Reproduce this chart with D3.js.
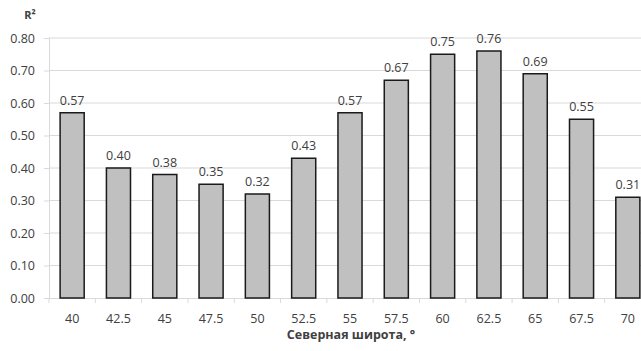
<!DOCTYPE html>
<html><head><meta charset="utf-8">
<script src="https://cdn.jsdelivr.net/npm/d3@7"></script>
<style>body{margin:0;background:#fff}svg{display:block}text{font-family:"Open Sans",sans-serif}</style>
</head><body><svg id="c" width="641" height="351"></svg>
<script>
const categories = ["40","42.5","45","47.5","50","52.5","55","57.5","60","62.5","65","67.5","70"];
const values = [0.57,0.40,0.38,0.35,0.32,0.43,0.57,0.67,0.75,0.76,0.69,0.55,0.31];
const yTicks = [0,0.1,0.2,0.3,0.4,0.5,0.6,0.7,0.8];
const xTitle = "Северная широта, °";
const yTitle = "R²";

const svg = d3.select("#c");
const x = d3.scaleBand().domain(categories).range([49, 651]).paddingInner(0.48).paddingOuter(0.24);
const y = d3.scaleLinear().domain([0, 0.8]).range([298, 38]);

svg.append("g").selectAll("line").data(yTicks.slice(1)).join("line")
  .attr("x1", 49).attr("x2", 641).attr("y1", d => y(d)).attr("y2", d => y(d))
  .attr("stroke", "#d9d9d9").attr("stroke-width", 1);

const ya = svg.append("g").attr("transform", "translate(49,0)")
  .call(d3.axisLeft(y).tickValues(yTicks).tickFormat(d3.format(".2f")).tickSize(5).tickPadding(9));
ya.select(".domain").attr("stroke", "#d9d9d9");
ya.selectAll(".tick line").attr("stroke", "#d9d9d9");
ya.selectAll("text").attr("font-size", 12.5).attr("fill", "#404040").attr("font-family", "Open Sans");

const step = x.step();
const xa = svg.append("g").attr("transform", "translate(0,298)")
  .call(d3.axisBottom(x).tickSize(0).tickPadding(16));
xa.select(".domain").attr("stroke", "#d9d9d9");
xa.selectAll("text").attr("font-size", 12.5).attr("fill", "#404040").attr("font-family", "Open Sans");
svg.append("g").selectAll("line").data(d3.range(categories.length + 1)).join("line")
  .attr("x1", i => 49 + i * step).attr("x2", i => 49 + i * step)
  .attr("y1", 298).attr("y2", 303).attr("stroke", "#d9d9d9");

svg.append("g").selectAll("rect").data(values).join("rect")
  .attr("x", (d, i) => x(categories[i])).attr("width", x.bandwidth())
  .attr("y", d => y(d)).attr("height", d => 298 - y(d))
  .attr("fill", "#c0c0c0").attr("stroke", "#1a1a1a").attr("stroke-width", 1.5);

svg.append("g").selectAll("text").data(values).join("text")
  .attr("x", (d, i) => x(categories[i]) + x.bandwidth() / 2).attr("y", d => y(d) - 8)
  .attr("text-anchor", "middle").attr("font-size", 12.5).attr("fill", "#404040")
  .text(d => d3.format(".2f")(d));

svg.append("text").attr("x", 30).attr("y", 19).attr("text-anchor", "middle")
  .attr("font-size", 11).attr("font-weight", "bold").attr("fill", "#404040").text(yTitle);
svg.append("text").attr("x", 351).attr("y", 339).attr("text-anchor", "middle")
  .attr("font-size", 12.5).attr("font-weight", "bold").attr("fill", "#404040").text(xTitle);
</script></body></html>
